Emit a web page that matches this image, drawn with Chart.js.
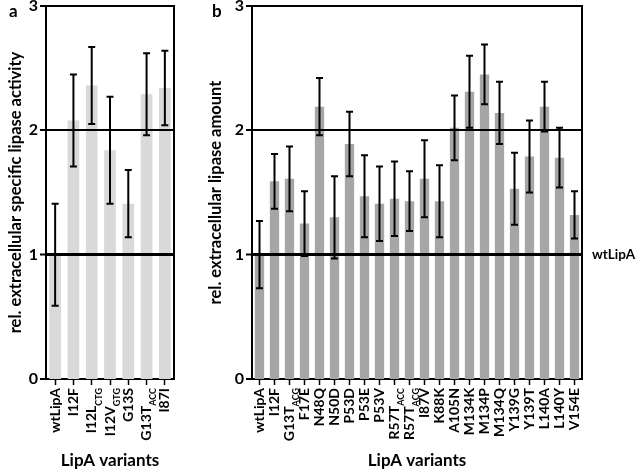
<!DOCTYPE html>
<html>
<head>
<meta charset="utf-8">
<script src="https://cdn.jsdelivr.net/npm/chart.js@4/dist/chart.umd.min.js"></script>
<style>
  body { margin: 0; background: #fff; width: 638px; height: 475px; position: relative; overflow: hidden; }
  .panel { position: absolute; top: 0; height: 475px; }
  #panel_a { left: 0; width: 190px; }
  #panel_b { left: 200px; width: 438px; }
  .tag { position: absolute; top: 0; font: bold 17px Lato, sans-serif; color: #000; }
</style>
</head>
<body>
<div class="panel" id="panel_a"><canvas id="chart_a"></canvas></div>
<div class="panel" id="panel_b"><canvas id="chart_b"></canvas></div>
<div class="tag" style="left:9px">a</div>
<div class="tag" style="left:212px">b</div>
<script>
// "_" separates the subscript part of a label (codon used)
const categoriesA = ["wtLipA", "I12F", "I12L_CTG", "I12V_GTG", "G13S", "G13T_ACC", "I87I"];
const activityA = [1.00, 2.08, 2.36, 1.84, 1.41, 2.29, 2.34];
const errorA = [0.41, 0.37, 0.31, 0.43, 0.27, 0.33, 0.30];

const categoriesB = ["wtLipA", "I12F", "G13T_ACG", "F17E", "N48Q", "N50D", "P53D", "P53E", "P53V",
  "R57T_ACC", "R57T_ACG", "I87V", "K88K", "A105N", "M134K", "M134P", "M134Q", "Y139G", "Y139T",
  "L140A", "L140Y", "V154E"];
const amountB = [1.00, 1.59, 1.61, 1.25, 2.19, 1.30, 1.89, 1.47, 1.41, 1.45, 1.43, 1.61, 1.43,
  2.02, 2.31, 2.45, 2.14, 1.53, 1.79, 2.19, 1.78, 1.32];
const errorB = [0.27, 0.22, 0.26, 0.26, 0.23, 0.33, 0.26, 0.33, 0.30, 0.30, 0.24, 0.31, 0.29,
  0.26, 0.29, 0.24, 0.25, 0.29, 0.29, 0.20, 0.24, 0.19];

const yTicks = [0, 1, 2, 3];
const FONT = "Lato, sans-serif";

// error bars, right frame, rotated labels with subscripts, reference label
const lipaPlugin = {
  id: "lipa",
  afterDatasetsDraw(chart, args, opts) {
    const ctx = chart.ctx;
    const y = chart.scales.y;
    const values = chart.data.datasets[0].data;
    ctx.save();
    ctx.strokeStyle = "#000";
    ctx.lineWidth = 2;
    chart.getDatasetMeta(0).data.forEach((bar, i) => {
      const top = y.getPixelForValue(values[i] + opts.errors[i]);
      const bottom = y.getPixelForValue(values[i] - opts.errors[i]);
      ctx.beginPath();
      ctx.moveTo(bar.x, top); ctx.lineTo(bar.x, bottom);
      ctx.moveTo(bar.x - 3.5, top); ctx.lineTo(bar.x + 3.5, top);
      ctx.moveTo(bar.x - 3.5, bottom); ctx.lineTo(bar.x + 3.5, bottom);
      ctx.stroke();
    });
    ctx.restore();
  },
  afterDraw(chart, args, opts) {
    const ctx = chart.ctx;
    const area = chart.chartArea;
    const x = chart.scales.x;
    const y = chart.scales.y;
    ctx.save();
    ctx.strokeStyle = "#000";
    ctx.lineWidth = 2;
    ctx.beginPath();
    ctx.moveTo(area.right, area.top - 1);
    ctx.lineTo(area.right, area.bottom);
    ctx.stroke();

    ctx.fillStyle = "#000";
    ctx.textBaseline = "middle";
    ctx.textAlign = "left";
    chart.data.labels.forEach((label, i) => {
      const [main, sub] = label.split("_");
      ctx.save();
      ctx.translate(x.getPixelForValue(i), area.bottom + 9);
      ctx.rotate(-Math.PI / 2);
      ctx.font = "bold 9px " + FONT;
      const wSub = sub ? ctx.measureText(sub).width : 0;
      ctx.font = "bold 14px " + FONT;
      const wMain = ctx.measureText(main).width;
      ctx.fillText(main, -(wMain + wSub), 0);
      if (sub) {
        ctx.font = "bold 9px " + FONT;
        ctx.fillText(sub, -wSub, 7);
      }
      ctx.restore();
    });

    if (opts.refLabel) {
      ctx.font = "bold 13.5px " + FONT;
      ctx.fillText(opts.refLabel, area.right + 10, y.getPixelForValue(1));
    }
    ctx.restore();
  }
};

function makeChart(id, labels, values, errors, color, yTitle, yWidth, rightPad, refLabel, barPct) {
  return new Chart(document.getElementById(id), {
    type: "bar",
    data: {
      labels,
      datasets: [{
        data: values,
        backgroundColor: color,
        borderWidth: 0,
        categoryPercentage: 1,
        barPercentage: barPct
      }]
    },
    options: {
      responsive: true,
      maintainAspectRatio: false,
      animation: false,
      layout: { padding: { top: 6, right: rightPad, left: 0, bottom: 0 } },
      plugins: {
        legend: { display: false },
        tooltip: { enabled: false },
        lipa: { errors, refLabel }
      },
      scales: {
        x: {
          ticks: { display: false },
          grid: { display: true, offset: false, drawOnChartArea: false, tickLength: 6, tickWidth: 1.5, tickColor: "#000" },
          border: { display: true, color: "#000", width: 2 },
          title: {
            display: true, text: "LipA variants", color: "#000",
            font: { family: FONT, weight: "bold", size: 17 }, padding: { top: 0, bottom: 4 }
          },
          afterFit: s => { s.height = 96; s.paddingLeft = 0; s.paddingRight = 0; }
        },
        y: {
          min: 0,
          max: 3,
          afterBuildTicks: s => { s.ticks = yTicks.map(v => ({ value: v })); },
          ticks: { color: "#000", padding: 2, font: { family: FONT, weight: "bold", size: 16 } },
          // reference lines sit on top of the bars
          grid: {
            z: 1,
            color: "#000",
            lineWidth: c => (c.tick && c.tick.value === 1) ? 3 : (c.tick && c.tick.value === 0 ? 0 : 2),
            drawTicks: true, tickLength: 6, tickWidth: 2, tickColor: "#000"
          },
          border: { z: 1, color: "#000", width: 2 },
          title: {
            display: true, text: yTitle, color: "#000",
            font: { family: FONT, weight: "bold", size: 16.5 }, padding: { top: 6, bottom: 0 }
          },
          afterFit: s => { s.width = yWidth; s.paddingTop = 0; s.paddingBottom = 0; }
        }
      }
    },
    plugins: [lipaPlugin]
  });
}

makeChart("chart_a", categoriesA, activityA, errorA, "#d9d9d9",
  "rel. extracellular specific lipase activity", 46, 16, null, 0.64);
makeChart("chart_b", categoriesB, amountB, errorB, "#a6a6a6",
  "rel. extracellular lipase amount", 52, 56, "wtLipA", 0.62);
</script>
</body>
</html>
